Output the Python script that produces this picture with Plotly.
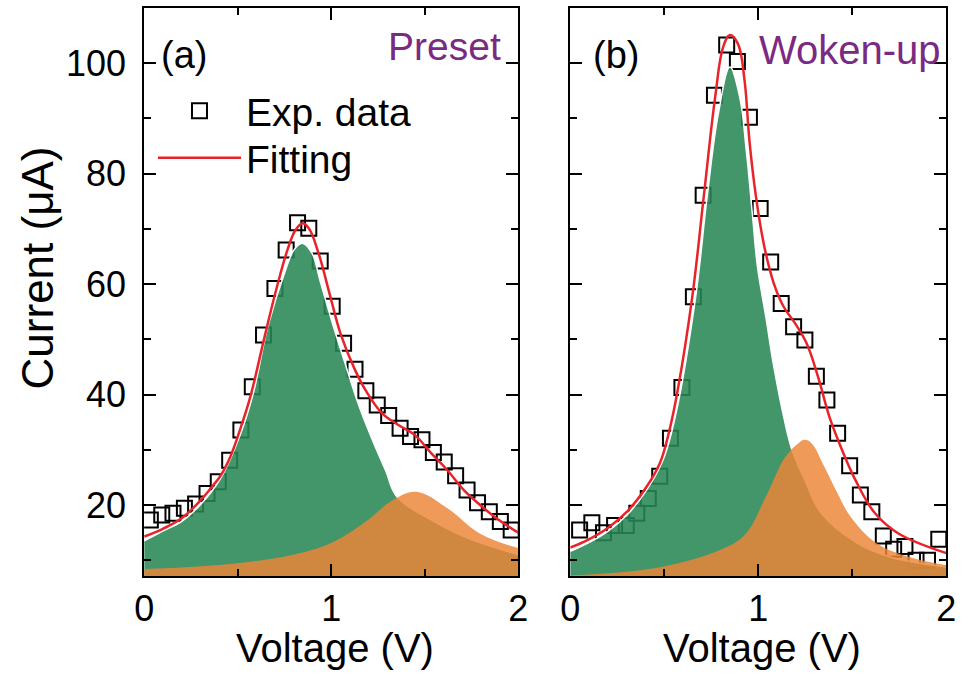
import plotly.graph_objects as go

# ---------------- data ----------------
# Panel (a) Preset: experimental points
va_exp = [0.033, 0.094, 0.154, 0.215, 0.275, 0.336, 0.396, 0.457, 0.517, 0.578, 0.638,
          0.699, 0.759, 0.820, 0.880, 0.941, 1.005, 1.066, 1.127, 1.185, 1.246, 1.307,
          1.368, 1.424, 1.485, 1.546, 1.604, 1.665, 1.726, 1.782, 1.845, 1.904, 1.962]
ia_exp = [17.3, 18.2, 18.5, 19.4, 20.2, 22.1, 24.2, 28.1, 33.6, 41.4, 50.8,
          59.2, 66.2, 71.1, 70.1, 64.2, 56.0, 49.3, 44.6, 40.7, 38.1, 36.2,
          33.9, 32.4, 31.8, 29.5, 27.8, 25.3, 22.7, 20.4, 18.8, 17.0, 15.5]
# Panel (a) fitting curve (red)
va_fit = [0.00, 0.10, 0.20, 0.30, 0.36, 0.41, 0.46, 0.51, 0.565, 0.644, 0.705, 0.766,
          0.809, 0.845, 0.880, 0.932, 0.993, 1.05, 1.124, 1.185, 1.272, 1.359, 1.446,
          1.534, 1.621, 1.709, 1.796, 1.883, 2.00]
ia_fit = [14.3, 15.7, 17.6, 20.8, 23.2, 25.4, 28.7, 33.4, 39.3, 50.5, 58.9, 66.2,
          69.8, 71.0, 70.1, 65.6, 58.0, 51.0, 44.7, 40.7, 36.6, 34.5, 32.7,
          29.4, 26.3, 22.7, 20.0, 17.6, 15.0]
# Panel (a) peak 1 (green)
va_p1 = [0.00, 0.094, 0.199, 0.304, 0.408, 0.513, 0.583, 0.661, 0.749, 0.801, 0.845,
         0.897, 0.941, 1.010, 1.080, 1.150, 1.220, 1.290, 1.351, 1.534, 1.709, 2.00]
ia_p1 = [13.5, 15.2, 17.0, 20.2, 24.8, 32.7, 40.2, 52.3, 61.9, 66.2, 67.4,
         65.6, 60.5, 52.5, 45.0, 37.8, 31.8, 26.3, 21.5, 17.3, 14.3, 11.0]
# Panel (a) peak 2 (orange)
va_p2 = [0.00, 0.487, 0.836, 1.01, 1.185, 1.33, 1.455, 1.621, 1.796, 2.00]
ia_p2 = [8.4, 9.4, 11.3, 13.3, 17.0, 20.9, 22.4, 19.4, 14.8, 12.2]

# Panel (b) Woken-up: experimental points
vb_exp = [0.050, 0.115, 0.177, 0.236, 0.298, 0.354, 0.415, 0.476, 0.533, 0.594, 0.655,
          0.707, 0.767, 0.832, 0.889, 0.953, 1.010, 1.066, 1.122, 1.188, 1.248, 1.309,
          1.365, 1.422, 1.486, 1.543, 1.604, 1.665, 1.720, 1.780, 1.839, 1.900, 1.960]
ib_exp = [15.5, 16.8, 15.0, 16.3, 16.3, 18.5, 21.2, 25.2, 32.1, 41.3, 57.7,
          76.1, 94.2, 103.3, 100.3, 90.2, 73.7, 64.0, 56.5, 52.3, 49.9, 43.3,
          39.0, 33.0, 27.1, 21.8, 18.8, 14.4, 12.0, 12.5, 10.0, 10.0, 13.8]
# Panel (b) fitting curve (red)
vb_fit = [0.00, 0.094, 0.198, 0.302, 0.406, 0.476, 0.528, 0.570, 0.649, 0.710, 0.771,
          0.814, 0.849, 0.892, 0.927, 0.953, 0.988, 1.031, 1.083, 1.135, 1.196, 1.257,
          1.318, 1.378, 1.431, 1.517, 1.621, 1.743, 2.00]
ib_fit = [12.3, 13.7, 15.8, 18.8, 23.3, 27.5, 33.6, 40.5, 57.7, 75.8, 93.9,
          103.0, 105.1, 103.5, 96.9, 86.0, 75.8, 67.0, 60.1, 55.9, 52.9, 49.3,
          43.2, 36.0, 31.2, 24.5, 18.5, 14.9, 11.3]
# Panel (b) peak 1 (green)
vb_p1 = [0.00, 0.094, 0.198, 0.302, 0.406, 0.493, 0.5625, 0.667, 0.728, 0.788, 0.849,
         0.901, 0.936, 0.970, 0.996, 1.040, 1.083, 1.135, 1.179, 1.248, 1.335, 1.526,
         1.700, 2.00]
ib_p1 = [11.6, 13.1, 15.2, 18.2, 22.7, 28.1, 36.6, 57.7, 75.8, 90.9, 99.3,
         93.9, 84.3, 72.2, 63.1, 54.1, 45.0, 36.0, 30.0, 24.5, 18.5, 13.1,
         10.6, 8.8]
# Panel (b) peak 2 (orange)
vb_p2 = [0.00, 0.484, 0.832, 0.936, 1.04, 1.144, 1.214, 1.245, 1.283, 1.352, 1.422,
         1.491, 1.63, 1.804, 2.00]
ib_p2 = [7.3, 8.8, 12.4, 14.9, 21.5, 28.7, 31.2, 31.8, 31.2, 26.9, 22.1,
         17.9, 13.1, 10.6, 9.1]

x_ticks = [0, 1, 2]
y_ticks = [20, 40, 60, 80, 100]
panel_labels = ["(a)", "(b)"]
panel_titles = ["Preset", "Woken-up"]
x_title = "Voltage (V)"
y_title = "Current (μA)"
legend_names = ["Exp. data", "Fitting"]

# ---------------- styling ----------------
FONT = "Liberation Sans, Arial, sans-serif"
GREEN = "rgba(40,135,85,0.88)"
ORANGE = "rgba(237,133,56,0.83)"
RED = "#E8232A"
PURPLE = "#7A2A82"
W, H = 971, 675
SMOOTH = 1.1

fig = go.Figure()

panels = [
    (va_exp, ia_exp, va_fit, ia_fit, va_p1, ia_p1, va_p2, ia_p2, "x", "y"),
    (vb_exp, ib_exp, vb_fit, ib_fit, vb_p1, ib_p1, vb_p2, ib_p2, "x2", "y2"),
]
for k, (ve, ie, vf, iff, v1, i1, v2, i2, xa, ya) in enumerate(panels):
    show = (k == 0)
    fig.add_trace(go.Scatter(
        x=ve, y=ie, mode="markers", name=legend_names[0], showlegend=show,
        legend="legend",
        marker=dict(symbol="square-open", size=15, color="black",
                    line=dict(width=2, color="black")),
        xaxis=xa, yaxis=ya))
    fig.add_trace(go.Scatter(
        x=v1, y=i1, mode="lines", fill="tozeroy", fillcolor=GREEN,
        line=dict(color="white", width=1.5, shape="spline", smoothing=SMOOTH),
        showlegend=False, hoverinfo="skip", xaxis=xa, yaxis=ya))
    fig.add_trace(go.Scatter(
        x=v2, y=i2, mode="lines", fill="tozeroy", fillcolor=ORANGE,
        line=dict(color="rgba(0,0,0,0)", width=0, shape="spline", smoothing=SMOOTH),
        showlegend=False, hoverinfo="skip", xaxis=xa, yaxis=ya))
    fig.add_trace(go.Scatter(
        x=vf, y=iff, mode="lines", name=legend_names[1], showlegend=show,
        legend="legend2",
        line=dict(color=RED, width=2.5, shape="spline", smoothing=SMOOTH),
        xaxis=xa, yaxis=ya))

xdom = [[137 / W, 519 / W], [572 / W, 956 / W]]
ydom = [1 - 576 / H, 1 - 8 / H]

axis_common = dict(
    showline=True, linecolor="black", linewidth=2, mirror="allticks",
    ticks="inside", tickwidth=2, tickcolor="black", ticklen=12,
    showgrid=False, zeroline=False,
    tickfont=dict(family=FONT, size=36, color="black"),
)
fig.update_layout(
    xaxis=dict(domain=xdom[0], range=[0, 2], tickvals=x_ticks,
               minor=dict(dtick=0.5, tick0=0, ticks="inside", ticklen=7,
                          tickwidth=2, tickcolor="black"),
               anchor="y", **axis_common),
    xaxis2=dict(domain=xdom[1], range=[0, 2], tickvals=x_ticks,
                minor=dict(dtick=0.5, tick0=0, ticks="inside", ticklen=7,
                           tickwidth=2, tickcolor="black"),
                anchor="y2", **axis_common),
    yaxis=dict(domain=ydom, range=[7.15, 110], tickvals=y_ticks,
               minor=dict(dtick=10, tick0=0, ticks="inside", ticklen=7,
                          tickwidth=2, tickcolor="black"),
               anchor="x", ticklabelstandoff=9, **axis_common),
    yaxis2=dict(domain=ydom, range=[7.15, 110], tickvals=y_ticks,
                minor=dict(dtick=10, tick0=0, ticks="inside", ticklen=7,
                           tickwidth=2, tickcolor="black"),
                anchor="x2", showticklabels=False, **axis_common),
)

ann = []
ann.append(dict(text=panel_labels[0], x=152 / W, y=1 - 55 / H, xref="paper", yref="paper",
                xanchor="left", yanchor="middle", showarrow=False,
                font=dict(family=FONT, size=38, color="black")))
ann.append(dict(text=panel_titles[0], x=503 / W, y=1 - 47 / H, xref="paper", yref="paper",
                xanchor="right", yanchor="middle", showarrow=False,
                font=dict(family=FONT, size=39, color=PURPLE)))
ann.append(dict(text=panel_labels[1], x=593 / W, y=1 - 55 / H, xref="paper", yref="paper",
                xanchor="left", yanchor="middle", showarrow=False,
                font=dict(family=FONT, size=38, color="black")))
ann.append(dict(text=panel_titles[1], x=953 / W, y=1 - 50 / H, xref="paper", yref="paper",
                xanchor="right", yanchor="middle", showarrow=False,
                font=dict(family=FONT, size=40, color=PURPLE)))
for d in xdom:
    ann.append(dict(text=x_title, x=(d[0] + d[1]) / 2 + 4 / W, y=1 - 648 / H,
                    xref="paper", yref="paper", xanchor="center", yanchor="middle",
                    showarrow=False, font=dict(family=FONT, size=40, color="black")))
ann.append(dict(text=y_title, x=28 / W, y=1 - 268 / H, xref="paper", yref="paper",
                xanchor="center", yanchor="middle", textangle=-90, showarrow=False,
                font=dict(family=FONT, size=44, color="black")))

legend_common = dict(xanchor="left", yanchor="top", bgcolor="rgba(0,0,0,0)",
                     itemwidth=83, tracegroupgap=0,
                     font=dict(family=FONT, size=39, color="black"))
fig.update_layout(
    width=W, height=H, margin=dict(l=0, r=0, t=0, b=0),
    paper_bgcolor="white", plot_bgcolor="white",
    annotations=ann,
    showlegend=True,
    legend=dict(x=146 / W, y=1 - 79 / H, **legend_common),
    legend2=dict(x=146 / W, y=1 - 126 / H, **legend_common),
    font=dict(family=FONT),
)

fig.write_html("out.html")
